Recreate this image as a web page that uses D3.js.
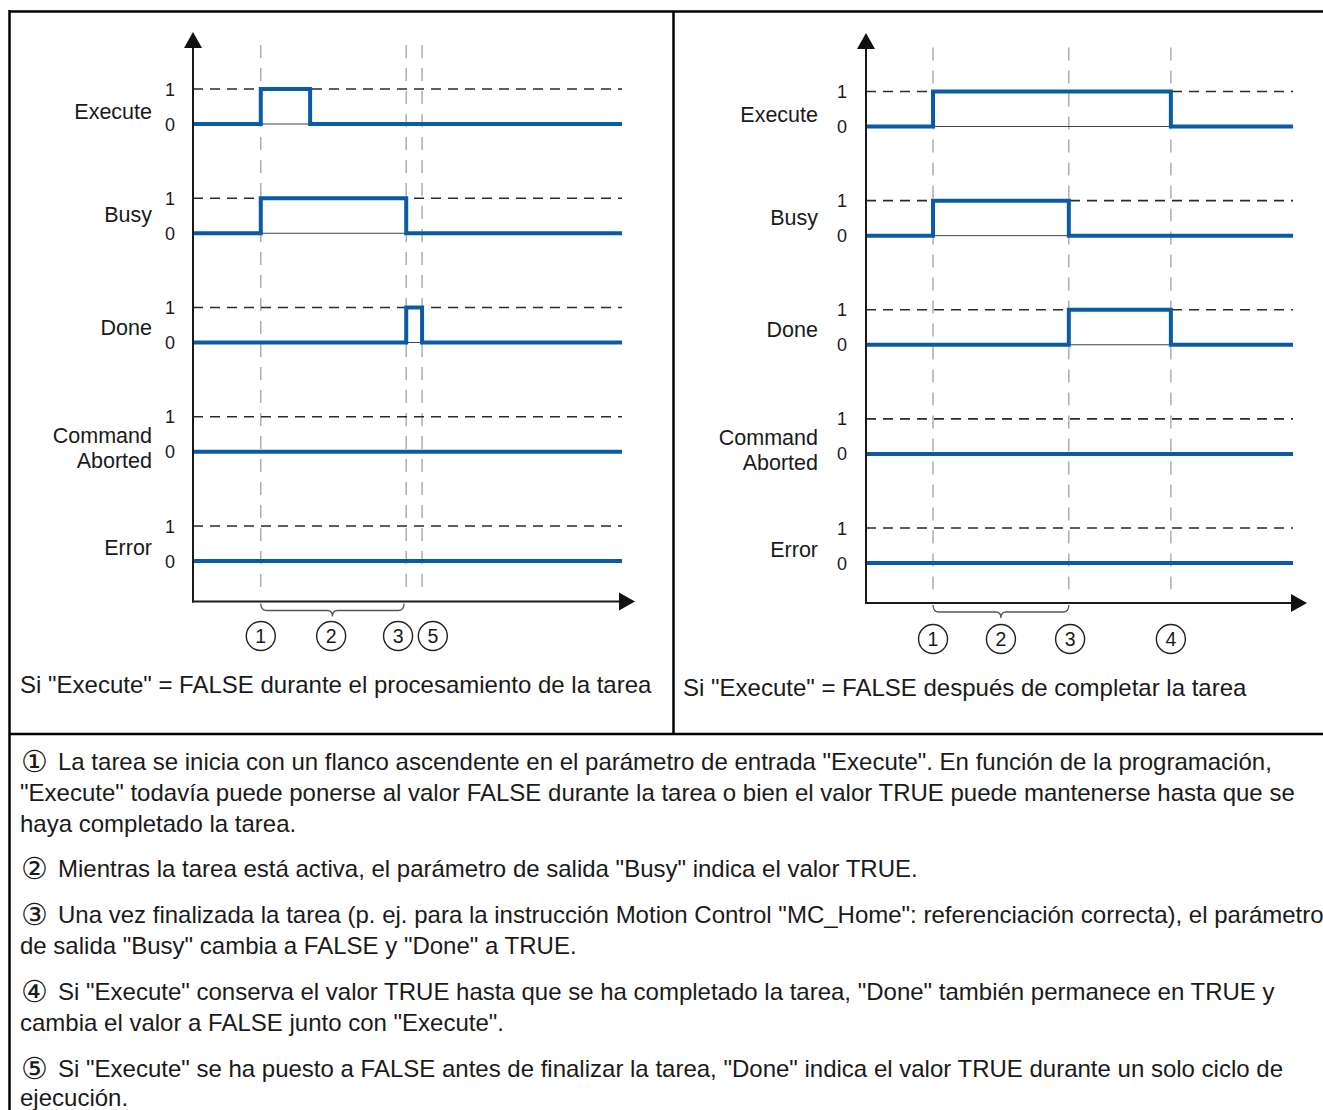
<!DOCTYPE html>
<html><head><meta charset="utf-8">
<script src="https://cdn.jsdelivr.net/npm/d3@7"></script>
<style>
body{margin:0;background:#fff}
svg{display:block}
text{font-family:"Liberation Sans",Arial,Helvetica,sans-serif;fill:#1a1a1a}
</style>
</head><body>
<svg id="chart" width="1323" height="1110"></svg>
<script>
// ---------- DATA ----------
const signalNames = ["Execute", "Busy", "Done", "Command\nAborted", "Error"];
const levelTicks = ["1", "0"];

// step signals: [time, value] (time in 0..100 units)
const leftExecute = [[0,0],[15.8,1],[27.3,0],[100,0]];
const leftBusy    = [[0,0],[15.8,1],[49.7,0],[100,0]];
const leftDone    = [[0,0],[49.7,1],[53.4,0],[100,0]];
const leftAborted = [[0,0],[100,0]];
const leftError   = [[0,0],[100,0]];

const rightExecute = [[0,0],[15.7,1],[71.4,0],[100,0]];
const rightBusy    = [[0,0],[15.7,1],[47.5,0],[100,0]];
const rightDone    = [[0,0],[47.5,1],[71.4,0],[100,0]];
const rightAborted = [[0,0],[100,0]];
const rightError   = [[0,0],[100,0]];

const leftGuides  = [15.8, 49.7, 53.4];
const rightGuides = [15.7, 47.5, 71.4];

const leftBrace  = [15.8, 49.2];
const rightBrace = [15.7, 47.5];

const leftMarkerLabels  = ["1", "2", "3", "5"];
const leftMarkerTimes   = [15.8, 32.2, 47.8, 55.9];
const rightMarkerLabels = ["1", "2", "3", "4"];
const rightMarkerTimes  = [15.7, 31.6, 47.8, 71.4];

const leftCaption  = 'Si "Execute" = FALSE durante el procesamiento de la tarea';
const rightCaption = 'Si "Execute" = FALSE después de completar la tarea';

const noteMarks = ['\u2460', '\u2461', '\u2462', '\u2463', '\u2464'];
const notes = [
  ['La tarea se inicia con un flanco ascendente en el parámetro de entrada "Execute". En función de la programación,',
   '"Execute" todavía puede ponerse al valor FALSE durante la tarea o bien el valor TRUE puede mantenerse hasta que se',
   'haya completado la tarea.'],
  ['Mientras la tarea está activa, el parámetro de salida "Busy" indica el valor TRUE.'],
  ['Una vez finalizada la tarea (p. ej. para la instrucción Motion Control "MC_Home": referenciación correcta), el parámetro',
   'de salida "Busy" cambia a FALSE y "Done" a TRUE.'],
  ['Si "Execute" conserva el valor TRUE hasta que se ha completado la tarea, "Done" también permanece en TRUE y',
   'cambia el valor a FALSE junto con "Execute".'],
  ['Si "Execute" se ha puesto a FALSE antes de finalizar la tarea, "Done" indica el valor TRUE durante un solo ciclo de',
   'ejecución.']
];

// ---------- LAYOUT ----------
const BLUE = "#0b5aa6";
const svg = d3.select("#chart");

const panels = [
  {signals:[leftExecute,leftBusy,leftDone,leftAborted,leftError], guides:leftGuides, brace:leftBrace,
   markers:leftMarkerLabels.map((l,i)=>({l, t:leftMarkerTimes[i]})), caption:leftCaption,
   x0:193, x1:622, tip:635, yTop:89, yBot:526, axisY:601.5, axisTop:32, labelRight:152, tickX:170,
   captionX:20, captionY:693, markerY:636},
  {signals:[rightExecute,rightBusy,rightDone,rightAborted,rightError], guides:rightGuides, brace:rightBrace,
   markers:rightMarkerLabels.map((l,i)=>({l, t:rightMarkerTimes[i]})), caption:rightCaption,
   x0:866, x1:1293, tip:1307, yTop:91.5, yBot:528, axisY:603, axisTop:33, labelRight:818, tickX:842,
   captionX:683, captionY:696, markerY:639}
];
const labelOffsets = [30, 24, 27, 26.5, 29];

// frame
const frame = svg.append("g").attr("stroke","#000").attr("stroke-width",2.5).attr("fill","none");
frame.append("line").attr("x1",9).attr("x2",1323).attr("y1",11.5).attr("y2",11.5);
frame.append("line").attr("x1",9.5).attr("x2",9.5).attr("y1",10).attr("y2",1110);
frame.append("line").attr("x1",673.5).attr("x2",673.5).attr("y1",11).attr("y2",734);
frame.append("line").attr("x1",9).attr("x2",1323).attr("y1",734).attr("y2",734);

panels.forEach(p => {
  const g = svg.append("g");
  const x = d3.scaleLinear().domain([0,100]).range([p.x0, p.x1]);
  const yRow = d3.scalePoint().domain(signalNames).range([p.yTop, p.yBot]);
  const yVal = d3.scaleLinear().domain([1,0]).range([0,35]);

  // guides
  g.selectAll(".guide").data(p.guides).join("line")
    .attr("x1",d=>x(d)).attr("x2",d=>x(d)).attr("y1",45+(p.yTop-89)).attr("y2",p.axisY-12)
    .attr("stroke","#a8a8a8").attr("stroke-width",1.4).attr("stroke-dasharray","13,10");

  signalNames.forEach((name,i) => {
    const y0 = yRow(name);
    g.append("line").attr("x1",p.x0).attr("x2",p.x1).attr("y1",y0+yVal(1)).attr("y2",y0+yVal(1))
      .attr("stroke","#2a2a2a").attr("stroke-width",1.6).attr("stroke-dasharray","10,7");
    g.append("line").attr("x1",p.x0).attr("x2",p.x1).attr("y1",y0+yVal(0)).attr("y2",y0+yVal(0))
      .attr("stroke","#444").attr("stroke-width",1);
    const line = d3.line().x(d=>x(d[0])).y(d=>y0+yVal(d[1])).curve(d3.curveStepAfter);
    g.append("path").attr("d", line(p.signals[i])).attr("fill","none")
      .attr("stroke",BLUE).attr("stroke-width",4).attr("stroke-linejoin","miter");
    levelTicks.forEach(t => {
      g.append("text").attr("x",p.tickX).attr("y",y0+yVal(+t)+6.5).attr("text-anchor","middle")
        .attr("font-size",18).text(t);
    });
    const parts = name.split("\n");
    const lt = g.append("text").attr("text-anchor","end").attr("font-size",21.5);
    parts.forEach((s,k) => lt.append("tspan").attr("x",p.labelRight)
      .attr("y", y0 + labelOffsets[i] + k*25).text(s));
  });

  // axes
  g.append("line").attr("x1",p.x0).attr("x2",p.x0).attr("y1",p.axisTop+14).attr("y2",p.axisY+1)
    .attr("stroke","#1a1a1a").attr("stroke-width",2);
  g.append("line").attr("x1",p.x0-1).attr("x2",p.tip-14).attr("y1",p.axisY).attr("y2",p.axisY)
    .attr("stroke","#1a1a1a").attr("stroke-width",2);
  g.append("path").attr("d",`M${p.x0},${p.axisTop}L${p.x0-9},${p.axisTop+16}L${p.x0+9},${p.axisTop+16}Z`).attr("fill","#111");
  g.append("path").attr("d",`M${p.tip},${p.axisY}L${p.tip-16},${p.axisY-9}L${p.tip-16},${p.axisY+9}Z`).attr("fill","#111");

  // brace
  const bx1 = x(p.brace[0]), bx2 = x(p.brace[1]), bm = (bx1+bx2)/2, by = p.axisY+2;
  g.append("path").attr("d",
    `M${bx1},${by}Q${bx1},${by+7} ${bx1+6},${by+7}L${bm-5},${by+7}Q${bm},${by+7} ${bm},${by+13}` +
    `Q${bm},${by+7} ${bm+5},${by+7}L${bx2-6},${by+7}Q${bx2},${by+7} ${bx2},${by}`)
    .attr("fill","none").attr("stroke","#555").attr("stroke-width",1.3);

  // markers
  const mk = g.selectAll(".mk").data(p.markers).join("g").attr("transform",d=>`translate(${x(d.t)},${p.markerY})`);
  mk.append("circle").attr("r",14.5).attr("fill","none").attr("stroke","#222").attr("stroke-width",1.4);
  mk.append("text").attr("text-anchor","middle").attr("y",7).attr("font-size",19.5).text(d=>d.l);

  // caption
  g.append("text").attr("x",p.captionX).attr("y",p.captionY).attr("font-size",24).text(p.caption);
});

// notes
const baselines = [[770,801,832],[877],[923,954],[1000,1031],[1077,1106]];
const nt = svg.append("g");
notes.forEach((para,i) => para.forEach((ln,k) => {
  if (k === 0) {
    nt.append("text").attr("x",34).attr("y",baselines[i][k]+1.5).attr("text-anchor","middle")
      .attr("font-family","'DejaVu Sans',sans-serif").attr("font-size",30).text(noteMarks[i]);
    nt.append("text").attr("x",58).attr("y",baselines[i][k]).attr("font-size",24).text(ln);
  } else {
    nt.append("text").attr("x",20).attr("y",baselines[i][k]).attr("font-size",24).text(ln);
  }
}));
</script>
</body></html>
